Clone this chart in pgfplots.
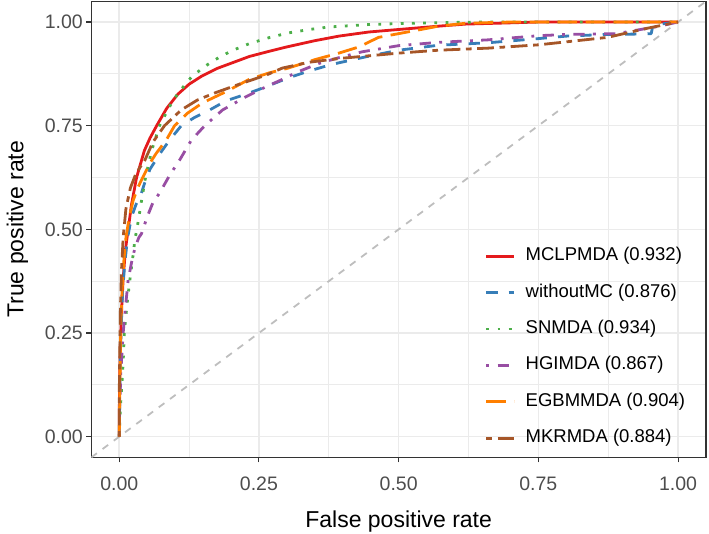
\documentclass[border=0pt]{standalone}
\usepackage{pgfplots}
\pgfplotsset{compat=1.18}
\usepackage{fontspec}
\setmainfont{Liberation Sans}
\definecolor{cRed}{HTML}{E41A1C}
\definecolor{cBlue}{HTML}{377EB8}
\definecolor{cGreen}{HTML}{4DAF4A}
\definecolor{cPurple}{HTML}{984EA3}
\definecolor{cOrange}{HTML}{FF7F00}
\definecolor{cBrown}{HTML}{A65628}
\definecolor{gridc}{HTML}{EBEBEB}
\definecolor{bord}{HTML}{333333}
\definecolor{tickc}{HTML}{4D4D4D}
\definecolor{diagc}{HTML}{BEBEBE}
\begin{document}
\begin{tikzpicture}
\begin{axis}[
  scale only axis, width=614.7pt, height=456.1pt,
  xmin=-0.05, xmax=1.05, ymin=-0.05, ymax=1.05,
  xtick={0,0.25,0.5,0.75,1}, ytick={0,0.25,0.5,0.75,1},
  minor xtick={0.125,0.375,0.625,0.875}, minor ytick={0.125,0.375,0.625,0.875},
  grid=both,
  major grid style={draw=gridc, line width=1.6pt},
  minor grid style={draw=gridc, line width=0.8pt},
  axis line style={draw=bord, line width=1.1pt},
  tick align=outside, major tick length=5pt, minor tick length=0pt,
  tick pos=left,
  tick style={draw=bord, line width=1.1pt},
  /pgf/number format/assume math mode=true,
  xticklabel={\pgfmathprintnumber[fixed,fixed zerofill,precision=2]{\tick}},
  yticklabel={\pgfmathprintnumber[fixed,fixed zerofill,precision=2]{\tick}},
  ticklabel style={font=\fontsize{19.5}{19.5}\selectfont, text=tickc},
  xticklabel style={yshift=-11pt},
  xlabel={False positive rate}, ylabel={True positive rate},
  every axis x label/.style={at={([yshift=-70.5pt]axis description cs:0.5,0)}, anchor=base, font=\fontsize{23}{23}\selectfont},
  every axis y label/.style={at={([xshift=-68pt]axis description cs:0,0.5)}, rotate=90, anchor=base, font=\fontsize{23}{23}\selectfont},
  legend style={at={(axis cs:0.654,0.4563)}, anchor=north west, draw=none, fill=none, inner sep=0pt,
    font=\fontsize{18.5}{18.5}\selectfont, row sep=19.4pt,
    nodes={inner sep=0pt, text height=13pt, text depth=4pt},
    /tikz/every odd column/.append style={column sep=10pt}},
  legend cell align=left,
  legend image code/.code={\draw[line width=2.8pt, #1] (0pt,0pt) -- (28pt,0pt);},
  every axis plot/.append style={no markers, line width=2.8pt, line join=round},
]
\addplot[diagc, line width=1.8pt, dash pattern=on 7pt off 7pt, forget plot] coordinates {(-0.05,-0.05) (1.05,1.05)};

\addplot[cRed] coordinates {
(0,0) (0.000,0.05) (0.001,0.15) (0.002,0.22) (0.004,0.30) (0.007,0.38) (0.011,0.45) (0.016,0.50)
(0.022,0.56) (0.031,0.625) (0.045,0.69) (0.055,0.72) (0.067,0.75) (0.085,0.792) (0.105,0.826)
(0.125,0.850) (0.147,0.869) (0.175,0.888) (0.209,0.905) (0.233,0.917) (0.27,0.930) (0.30,0.940)
(0.35,0.955) (0.393,0.966) (0.447,0.976) (0.50,0.982) (0.571,0.990) (0.62,0.995) (0.70,0.998)
(0.75,1.0) (1.0,1.0)};
\addlegendentry{MCLPMDA (0.932)}

\addplot[cBlue, dash pattern=on 11.2pt off 11.2pt] coordinates {
(0,0) (0.001,0.1) (0.002,0.2) (0.004,0.28) (0.006,0.35) (0.010,0.42) (0.015,0.48) (0.022,0.53)
(0.030,0.56) (0.038,0.58) (0.045,0.61) (0.055,0.645) (0.073,0.683) (0.09,0.715) (0.111,0.75)
(0.135,0.77) (0.162,0.788) (0.191,0.810) (0.227,0.826) (0.251,0.838) (0.27,0.848) (0.304,0.866)
(0.34,0.882) (0.381,0.898) (0.441,0.916) (0.50,0.932) (0.571,0.944) (0.66,0.950) (0.75,0.960)
(0.80,0.966) (0.87,0.970) (0.93,0.971) (0.952,0.972) (0.955,0.993) (1,1)};
\addlegendentry{withoutMC (0.876)}

\addplot[cGreen, dash pattern=on 2.8pt off 8.4pt] coordinates {
(0,0) (0.001,0.04) (0.003,0.09) (0.006,0.154) (0.008,0.21) (0.009,0.25) (0.014,0.32) (0.019,0.378)
(0.024,0.43) (0.028,0.474) (0.034,0.52) (0.040,0.57) (0.047,0.625) (0.058,0.69) (0.072,0.75)
(0.09,0.796) (0.105,0.828) (0.129,0.867) (0.15,0.89) (0.17,0.908) (0.20,0.93) (0.233,0.948)
(0.27,0.963) (0.304,0.974) (0.34,0.982) (0.375,0.988) (0.447,0.994) (0.52,0.997) (0.60,0.999)
(0.65,1.0) (1,1)};
\addlegendentry{SNMDA (0.934)}

\addplot[cPurple, dash pattern=on 2.8pt off 8.4pt on 11.2pt off 8.4pt] coordinates {
(0,0) (0.001,0.08) (0.003,0.16) (0.007,0.25) (0.011,0.31) (0.016,0.378) (0.022,0.42) (0.028,0.455)
(0.035,0.48) (0.040,0.49) (0.05,0.53) (0.061,0.567) (0.072,0.587) (0.09,0.63) (0.108,0.667)
(0.129,0.715) (0.153,0.75) (0.185,0.788) (0.227,0.82) (0.263,0.844) (0.286,0.858) (0.32,0.88)
(0.357,0.9) (0.393,0.914) (0.434,0.928) (0.50,0.943) (0.571,0.951) (0.66,0.957) (0.75,0.967)
(0.80,0.970) (0.89,0.972) (0.963,0.989) (1,1)};
\addlegendentry{HGIMDA (0.867)}

\addplot[cOrange, dash pattern=on 19.6pt off 8.4pt] coordinates {
(0,0) (0.001,0.1) (0.002,0.2) (0.003,0.28) (0.005,0.35) (0.008,0.42) (0.012,0.48) (0.018,0.53)
(0.025,0.57) (0.033,0.60) (0.042,0.625) (0.055,0.66) (0.066,0.683) (0.084,0.715) (0.099,0.75)
(0.122,0.78) (0.149,0.805) (0.191,0.832) (0.233,0.862) (0.27,0.878) (0.30,0.888) (0.352,0.91)
(0.393,0.925) (0.429,0.94) (0.464,0.963) (0.50,0.972) (0.536,0.981) (0.571,0.99) (0.62,0.997)
(0.70,1.0) (1,1)};
\addlegendentry{EGBMMDA (0.904)}

\addplot[cBrown, dash pattern=on 5.6pt off 5.6pt on 16.8pt off 5.6pt] coordinates {
(0,0) (0.000,0.1) (0.001,0.2) (0.002,0.3) (0.004,0.4) (0.007,0.48) (0.012,0.55) (0.02,0.60)
(0.03,0.635) (0.046,0.667) (0.06,0.71) (0.081,0.75) (0.111,0.788) (0.14,0.812) (0.173,0.83)
(0.221,0.853) (0.263,0.872) (0.292,0.889) (0.34,0.903) (0.393,0.912) (0.50,0.925) (0.571,0.932)
(0.66,0.937) (0.75,0.945) (0.785,0.95) (0.874,0.963) (0.945,0.985) (1,1)};
\addlegendentry{MKRMDA (0.884)}
\end{axis}
\pgfresetboundingbox
\path (-91.3pt,-76.6pt) rectangle (617.7pt,457.4pt);
\end{tikzpicture}
\end{document}
